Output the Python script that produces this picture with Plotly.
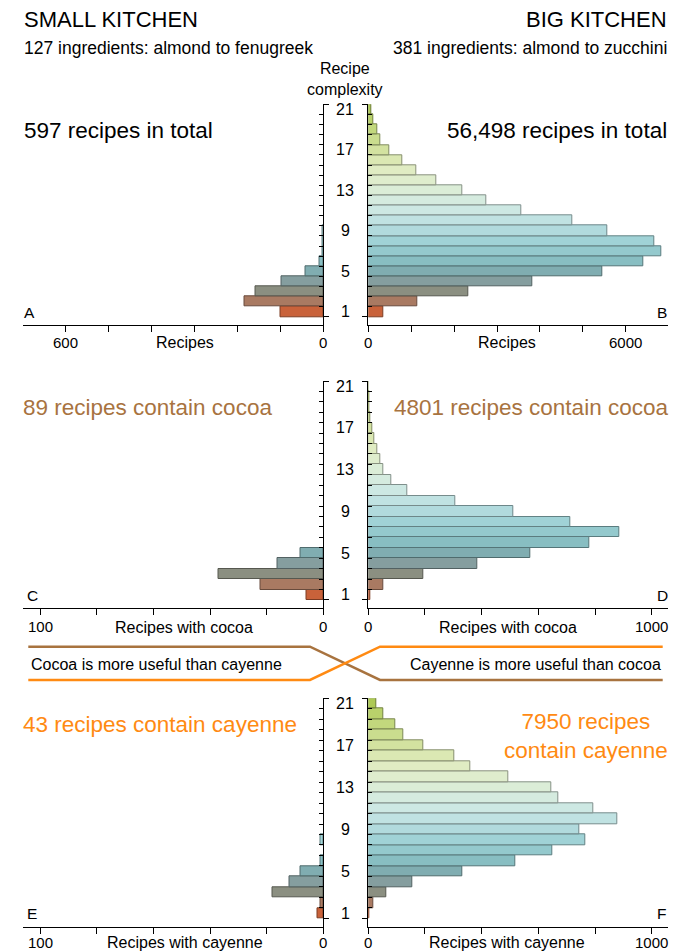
import plotly.graph_objects as go

W, H = 681, 951

# ---------------- data ----------------
complexity = list(range(1, 22))
complexity_ticks = [1, 5, 9, 13, 17, 21]

small_total = [100, 183, 159, 98, 42, 9, 3, 2, 1, 0, 0, 0, 0, 0, 0, 0, 0, 0, 0, 0, 0]
big_total = [350, 1145, 2320, 3815, 5445, 6415, 6830, 6665, 5575, 4745, 3565, 2750, 2180,
             1580, 1120, 795, 500, 275, 220, 120, 63]
small_cocoa = [6, 22, 37, 16, 8, 0, 0, 0, 0, 0, 0, 0, 0, 0, 0, 0, 0, 0, 0, 0, 0]
big_cocoa = [8, 53, 194, 383, 572, 781, 885, 714, 512, 307, 137, 80, 53, 41, 32, 20, 15, 7, 4, 2, 1]
small_cayenne = [2, 1, 18, 12, 8, 1, 0, 1, 0, 0, 0, 0, 0, 0, 0, 0, 0, 0, 0, 0, 0]
big_cayenne = [4, 19, 65, 157, 333, 520, 650, 765, 744, 877, 794, 672, 646, 495, 361, 302,
               195, 125, 97, 53, 28]

top_left_ticks = [0, 100, 200, 300, 400, 500, 600]
top_right_ticks = [0, 1000, 2000, 3000, 4000, 5000, 6000]
low_left_ticks = [0, 20, 40, 60, 80, 100]
low_right_ticks = [0, 200, 400, 600, 800, 1000]

# ---------------- style ----------------
FILL = ["#c9623a", "#a97a62", "#8b8f81", "#859e9f", "#80adb1", "#88bec2", "#94c9cd",
        "#a0d2d6", "#b1dadd", "#c0e2e2", "#cde8e3", "#d5ebdf", "#dbedd7", "#dfedcd",
        "#e0ecc3", "#dbe8b3", "#d3e2a0", "#cadd8e", "#c2d87d", "#b9d26b", "#adc955"]


def darker(hx, f=0.62):
    r, g, b = int(hx[1:3], 16), int(hx[3:5], 16), int(hx[5:7], 16)
    return "rgb(%d,%d,%d)" % (r * f, g * f, b * f)


LINE = [darker(c) for c in FILL]
FONT = "Liberation Sans, Arial, Helvetica, sans-serif"
BROWN = "#a8733f"
ORANGE = "#ff8a12"


def px(x):
    return x / W


def py(y):
    return 1 - y / H


fig = go.Figure()

LX = (22.5, 323.3)
RX = (368.3, 668.0)
ROWS = [(104.3, 325.0), (381.0, 608.3), (698.3, 926.7)]
TICKLABEL_Y = [342.0, 626.7, 942.8]

panels = [
    ("x", "y", small_total, LX, 0, [700.6, 0], top_left_ticks, "left"),
    ("x2", "y2", big_total, RX, 0, [0, 6985], top_right_ticks, "right"),
    ("x3", "y3", small_cocoa, LX, 1, [106.2, 0], low_left_ticks, "left"),
    ("x4", "y4", big_cocoa, RX, 1, [0, 1057.5], low_right_ticks, "right"),
    ("x5", "y5", small_cayenne, LX, 2, [106.2, 0], low_left_ticks, "left"),
    ("x6", "y6", big_cayenne, RX, 2, [0, 1057.5], low_right_ticks, "right"),
]

ann = []
layout_axes = {}
for xa, ya, vals, dx, row, rng, xt, side in panels:
    dy = ROWS[row]
    ys = [c for c, v in zip(complexity, vals) if v > 0]
    xs = [v for v in vals if v > 0]
    fc = [FILL[c - 1] for c in ys]
    lc = [LINE[c - 1] for c in ys]
    fig.add_trace(go.Bar(
        x=xs, y=ys, orientation="h", xaxis=xa, yaxis=ya, width=1,
        marker=dict(color=fc, line=dict(color=lc, width=1)),
        showlegend=False, hoverinfo="x+y"))
    xname = "xaxis" + xa[1:]
    yname = "yaxis" + ya[1:]
    layout_axes[xname] = dict(
        domain=[px(dx[0]), px(dx[1])], range=rng, anchor=ya,
        showline=True, linecolor="black", linewidth=1,
        ticks="outside", ticklen=6, tickcolor="black",
        tickvals=xt, showticklabels=False, showgrid=False, zeroline=False,
        fixedrange=True)
    layout_axes[yname] = dict(
        domain=[py(dy[1]), py(dy[0])], range=[-0.3, 21.5], anchor=xa,
        side="right" if side == "left" else "left",
        showline=True, linecolor="black", linewidth=1,
        tickvals=[0.5, 21.5], ticks="outside", ticklen=5, tickcolor="black",
        showticklabels=False, showgrid=False, zeroline=False,
        minor=dict(tickvals=[c + 0.5 for c in complexity[:-1]], ticks="inside",
                   ticklen=4, tickcolor="black", showgrid=False),
        fixedrange=True)
    for t in (xt[0], xt[-1]):
        ann.append(dict(text=str(t), x=t, xref=xa, y=py(TICKLABEL_Y[row]), yref="paper",
                        xanchor="center", yanchor="middle", showarrow=False,
                        font=dict(family=FONT, size=15, color="black")))


def text(t, x, y, anchor="left", size=16, color="black"):
    ann.append(dict(text=t, x=px(x), y=py(y), xref="paper", yref="paper",
                    xanchor=anchor, yanchor="middle", showarrow=False,
                    font=dict(family=FONT, size=size, color=color)))


text("SMALL KITCHEN", 22, 19.5, size=22)
text("BIG KITCHEN", 669, 19.5, "right", size=22)
text("127 ingredients: almond to fenugreek", 22, 48, size=17.5)
text("381 ingredients: almond to zucchini", 669, 48, "right", size=17.5)
text("Recipe<br>complexity", 345.5, 78.5, "center", size=16)
text("597 recipes in total", 21.5, 130, size=22.5)
text("56,498 recipes in total", 669, 130, "right", size=22.5)
text("A", 22, 312.5, size=15.5)
text("B", 669, 312.5, "right", size=15.5)
text("89 recipes contain cocoa", 21, 407.5, size=22.5, color=BROWN)
text("4801 recipes contain cocoa", 669.5, 407.5, "right", size=22.5, color=BROWN)
text("C", 24.5, 595.5, size=15.5)
text("D", 669.5, 595.5, "right", size=15.5)
text("Cocoa is more useful than cayenne", 28.5, 664, size=16)
text("Cayenne is more useful than cocoa", 662.5, 664, "right", size=16)
text("43 recipes contain cayenne", 21, 724.5, size=22.5, color=ORANGE)
text("7950 recipes<br>contain cayenne", 669.5, 736, "right", size=22.5, color=ORANGE)
text("E", 24.5, 913, size=15.5)
text("F", 668, 913, "right", size=15.5)

text("Recipes", 185, 342, "center", size=16)
text("Recipes", 506.7, 342, "center", size=16)
text("Recipes with cocoa", 184, 627, "center", size=16)
text("Recipes with cocoa", 507.7, 627, "center", size=16)
text("Recipes with cayenne", 184.7, 942.8, "center", size=16)
text("Recipes with cayenne", 507, 942.8, "center", size=16)

for ya in ("y2", "y4", "y6"):
    for c in complexity_ticks:
        ann.append(dict(text=str(c), x=px(345.5), y=c, xref="paper", yref=ya,
                        xanchor="center", yanchor="middle", showarrow=False,
                        font=dict(family=FONT, size=16, color="black")))


def path(points):
    return "M " + " L ".join("%f,%f" % (px(a), py(b)) for a, b in points)


shapes = [
    dict(type="path", xref="paper", yref="paper",
         path=path([(28.3, 646.7), (310, 646.7), (380, 680), (662.7, 680)]),
         line=dict(color=BROWN, width=2.5)),
    dict(type="path", xref="paper", yref="paper",
         path=path([(28.3, 680), (310, 680), (380, 646.7), (662.7, 646.7)]),
         line=dict(color=ORANGE, width=2.5)),
]

fig.update_layout(
    width=W, height=H, autosize=False, margin=dict(l=0, r=0, t=0, b=0),
    paper_bgcolor="white", plot_bgcolor="white",
    bargap=0, annotations=ann, shapes=shapes,
    font=dict(family=FONT, color="black"),
    **layout_axes)

post = (
    "document.documentElement.style.margin='0';"
    "document.documentElement.style.overflow='hidden';"
    "document.body.style.margin='0';document.body.style.padding='0';"
    "document.body.style.overflow='hidden';"
    "var gd=document.getElementById('{plot_id}');"
    "gd.style.position='absolute';gd.style.left='0px';gd.style.top='0px';"
    "Plotly.relayout(gd,{width:681,height:951});"
)

fig.write_html("out.html", config={"displayModeBar": False, "responsive": False},
               post_script=post)
